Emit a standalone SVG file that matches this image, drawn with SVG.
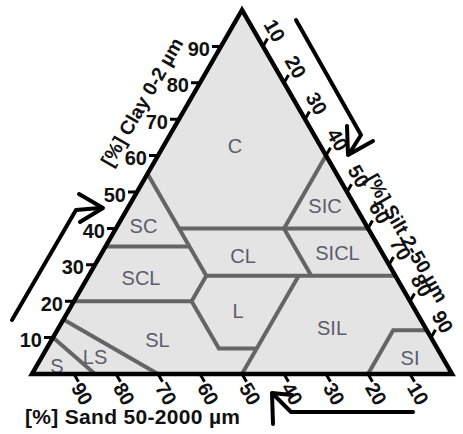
<svg xmlns="http://www.w3.org/2000/svg" width="463" height="434" viewBox="0 0 463 434">
<style>
text{font-family:"Liberation Sans",Arial,sans-serif}
.fill{fill:#e4e4e4;stroke:none}
.bnd{fill:none;stroke:#656565;stroke-width:4;stroke-linejoin:miter}
.edge{fill:none;stroke:#000;stroke-width:4.5;stroke-linejoin:miter}
.tick{stroke:#000;stroke-width:3}
.arr{fill:none;stroke:#000;stroke-width:4;stroke-linecap:round;stroke-linejoin:round}
.cls{font-size:20px;fill:#5c5c6a;text-anchor:middle}
.tl{font-size:20px;font-weight:bold;fill:#111;text-anchor:end}
.tr{font-size:20px;font-weight:bold;fill:#111;text-anchor:middle}
.ax{font-size:19.5px;font-weight:bold;fill:#111;text-anchor:middle}
</style>
<g id="triangle-fill"><polygon class="fill" points="242,10 32,374 452,374"/></g>
<g id="boundaries">
<polyline class="bnd" points="326,155.6 284,228.4"/>
<polyline class="bnd" points="179,228.4 368,228.4"/>
<polyline class="bnd" points="147.5,173.8 206.3,275.7"/>
<polyline class="bnd" points="105.5,246.6 189.5,246.6"/>
<polyline class="bnd" points="284,228.4 311.3,275.7"/>
<polyline class="bnd" points="206.3,275.7 395.3,275.7"/>
<polyline class="bnd" points="206.3,275.7 191.6,301.2 218.9,348.5 256.7,348.5"/>
<polyline class="bnd" points="74,301.2 191.6,301.2"/>
<polyline class="bnd" points="298.7,275.7 242,374"/>
<polyline class="bnd" points="426.8,330.3 393.2,330.3 368,374"/>
<polyline class="bnd" points="63.5,319.4 158,374"/>
<polyline class="bnd" points="53,337.6 95,374"/>
</g>
<g id="class-C"><text class="cls" x="235" y="153">C</text></g>
<g id="class-SC"><text class="cls" x="143.5" y="233">SC</text></g>
<g id="class-SIC"><text class="cls" x="325" y="213">SIC</text></g>
<g id="class-CL"><text class="cls" x="243" y="263">CL</text></g>
<g id="class-SICL"><text class="cls" x="337.5" y="260">SICL</text></g>
<g id="class-SCL"><text class="cls" x="141" y="285">SCL</text></g>
<g id="class-L"><text class="cls" x="238" y="318">L</text></g>
<g id="class-SIL"><text class="cls" x="332" y="335">SIL</text></g>
<g id="class-SL"><text class="cls" x="157.5" y="347">SL</text></g>
<g id="class-SI"><text class="cls" x="410" y="365">SI</text></g>
<g id="class-LS"><text class="cls" x="95" y="364">LS</text></g>
<g id="class-S"><text class="cls" x="57" y="373">S</text></g>
<g id="triangle-edge"><polygon class="edge" points="242,10 32,374 452,374"/></g>
<g id="clay-axis">
<path class="tick" d="M53,337.6h-9M74,301.2h-9M95,264.8h-9M116,228.4h-9M137,192h-9M158,155.6h-9M179,119.2h-9M200,82.8h-9M221,46.4h-9"/>
<text class="tl" x="42" y="347">10</text>
<text class="tl" x="63" y="310.7">20</text>
<text class="tl" x="84" y="274.3">30</text>
<text class="tl" x="105" y="237.9">40</text>
<text class="tl" x="126" y="201.5">50</text>
<text class="tl" x="147" y="165.1">60</text>
<text class="tl" x="168" y="128.7">70</text>
<text class="tl" x="189" y="92.3">80</text>
<text class="tl" x="210" y="55.9">90</text>
<text class="ax" transform="translate(142,102) rotate(-60)" dy="0.35em">[%] Clay 0-2 µm</text>
</g>
<g id="silt-axis">
<path class="tick" d="M263,46.4l4.5,-7.8M284,82.8l4.5,-7.8M305,119.2l4.5,-7.8M326,155.6l4.5,-7.8M347,192l4.5,-7.8M368,228.4l4.5,-7.8M389,264.8l4.5,-7.8M410,301.2l4.5,-7.8M431,337.6l4.5,-7.8"/>
<text class="tr" transform="translate(274.5,30.6) rotate(60)" dy="0.35em">10</text>
<text class="tr" transform="translate(295.5,67) rotate(60)" dy="0.35em">20</text>
<text class="tr" transform="translate(316.5,103.4) rotate(60)" dy="0.35em">30</text>
<text class="tr" transform="translate(337.5,139.8) rotate(60)" dy="0.35em">40</text>
<text class="tr" transform="translate(358.5,176.2) rotate(60)" dy="0.35em">50</text>
<text class="tr" transform="translate(379.5,212.6) rotate(60)" dy="0.35em">60</text>
<text class="tr" transform="translate(400.5,249) rotate(60)" dy="0.35em">70</text>
<text class="tr" transform="translate(421.5,285.4) rotate(60)" dy="0.35em">80</text>
<text class="tr" transform="translate(442.5,321.8) rotate(60)" dy="0.35em">90</text>
<text class="ax" transform="translate(407,238) rotate(60)" dy="0.35em">[%] Silt 2-50 µm</text>
</g>
<g id="sand-axis">
<path class="tick" d="M410,374l4.5,7.8M368,374l4.5,7.8M326,374l4.5,7.8M284,374l4.5,7.8M242,374l4.5,7.8M200,374l4.5,7.8M158,374l4.5,7.8M116,374l4.5,7.8M74,374l4.5,7.8"/>
<text class="tr" transform="translate(418,393.8) rotate(60)" dy="0.35em">10</text>
<text class="tr" transform="translate(376,393.8) rotate(60)" dy="0.35em">20</text>
<text class="tr" transform="translate(334,393.8) rotate(60)" dy="0.35em">30</text>
<text class="tr" transform="translate(292,393.8) rotate(60)" dy="0.35em">40</text>
<text class="tr" transform="translate(250,393.8) rotate(60)" dy="0.35em">50</text>
<text class="tr" transform="translate(208,393.8) rotate(60)" dy="0.35em">60</text>
<text class="tr" transform="translate(166,393.8) rotate(60)" dy="0.35em">70</text>
<text class="tr" transform="translate(124,393.8) rotate(60)" dy="0.35em">80</text>
<text class="tr" transform="translate(82,393.8) rotate(60)" dy="0.35em">90</text>
<text x="25" y="424" style="font-size:21px;font-weight:bold;fill:#111" textLength="215" lengthAdjust="spacing">[%] Sand 50-2000 µm</text>
</g>
<g id="connectors">
<path class="arr" d="M12,320 L76,210 L100,208"/>
<path class="arr" d="M79,194 L103,208 L80,222"/>
<path class="arr" d="M296,20 L361,135 L349,154"/>
<path class="arr" d="M347,126 L348,155 L373,141"/>
<path class="arr" d="M413,412 L291,412 L273,394"/>
<path class="arr" d="M273,424 L272,393 L292,395"/>
</g>
</svg>
